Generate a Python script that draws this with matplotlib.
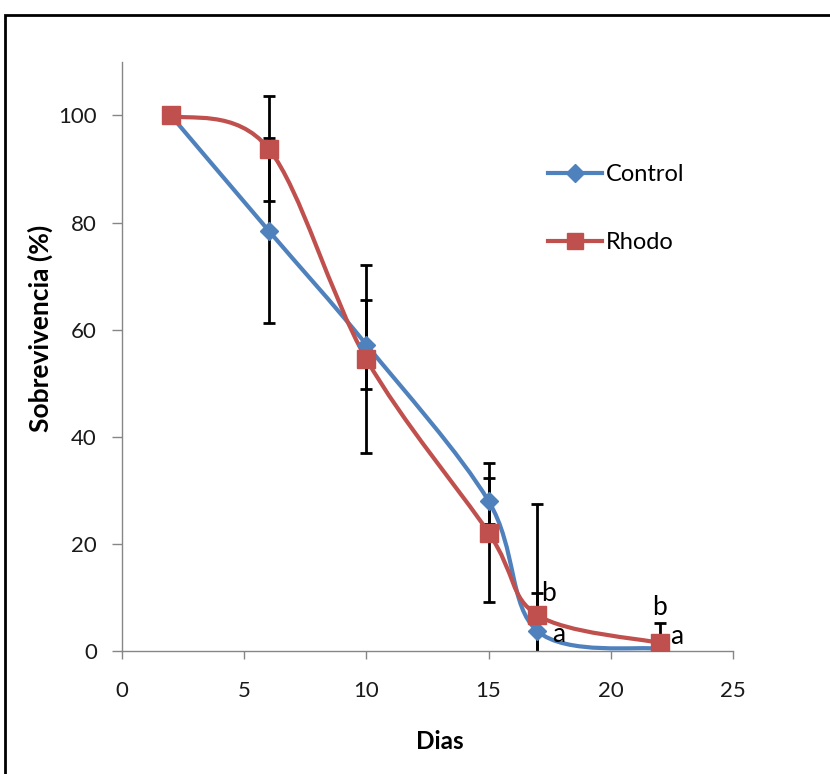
import matplotlib.pyplot as plt
from matplotlib.path import Path
from matplotlib.patches import PathPatch, Rectangle
from matplotlib.lines import Line2D
import numpy as np

plt.rcParams['font.family'] = ['Lato', 'DejaVu Sans']

# data
dias = [2, 6, 10, 15, 17, 22]
control = [100, 78.5, 57.2, 28, 3.7, 0.4]
control_err = [0, 17.3, 8.3, 4.3, 7.2, 0]
rhodo = [100, 93.8, 54.5, 22.1, 6.7, 1.5]
rhodo_err = [0, 9.8, 17.5, 13.0, 20.8, 3.7]
letras = [(17, 'b', 'a'), (22, 'b', 'a')]

azul = '#4F81BD'
rojo = '#C0504D'
gris = '#868686'


def smooth_path(x, y):
    # Excel-like smoothed line: cubic bezier with catmull-rom tangents
    x = np.asarray(x, float)
    y = np.asarray(y, float)
    pts = np.column_stack([x, y])
    n = len(pts)
    verts = [pts[0]]
    codes = [Path.MOVETO]
    for i in range(n - 1):
        p0 = pts[max(i - 1, 0)]
        p1 = pts[i]
        p2 = pts[i + 1]
        p3 = pts[min(i + 2, n - 1)]
        c1 = p1 + (p2 - p0) / 6.0
        c2 = p2 - (p3 - p1) / 6.0
        verts += [c1, c2, p2]
        codes += [Path.CURVE4] * 3
    return Path(verts, codes)


fig = plt.figure(figsize=(8.3, 7.74), dpi=100)
ax = fig.add_axes([0.147, 0.159, 0.736, 0.761])

for ys, err in [(control, control_err), (rhodo, rhodo_err)]:
    ax.errorbar(dias, ys, yerr=err, fmt='none', ecolor='black',
                elinewidth=2, capsize=4.5, capthick=2, zorder=2)

for ys, col, mk, ms in [(control, azul, 'D', 9), (rhodo, rojo, 's', 13)]:
    ax.add_patch(PathPatch(smooth_path(dias, ys), facecolor='none',
                           edgecolor=col, lw=3, zorder=3, capstyle='round'))
    ax.plot(dias, ys, linestyle='none', marker=mk, ms=ms, color=col,
            markeredgecolor=col, zorder=4)

for xd, tb, ta in letras:
    i = dias.index(xd)
    if xd == 17:
        ax.text(xd + 0.15, rhodo[i] + 4.0, tb, fontsize=19,
                ha='left', va='center', zorder=5)
        ax.text(xd + 0.6, control[i] - 0.6, ta, fontsize=19,
                ha='left', va='center', zorder=5)
    else:
        ax.text(xd, rhodo[i] + 6.6, tb, fontsize=19,
                ha='center', va='center', zorder=5)
        ax.text(xd + 0.45, rhodo[i] + 1.2, ta, fontsize=19,
                ha='left', va='center', zorder=5)

ax.set_xlim(0, 25)
ax.set_ylim(0, 110)
ax.set_xticks(range(0, 26, 5))
ax.set_yticks(range(0, 101, 20))
for s in ['top', 'right']:
    ax.spines[s].set_visible(False)
for s in ['left', 'bottom']:
    ax.spines[s].set_color(gris)
    ax.spines[s].set_linewidth(1)
ax.tick_params(direction='out', width=1, color=gris,
               labelsize=16, labelcolor='#1a1a1a')
ax.tick_params(axis='x', length=6, pad=16)
ax.tick_params(axis='y', length=7, pad=11)

ax.set_xlabel('Dias', fontsize=17.5, fontweight='bold', va='center')
ax.set_ylabel('Sobrevivencia (%)', fontsize=19, fontweight='bold', va='center')
ax.xaxis.set_label_coords(0.52, -0.1545)
ax.yaxis.set_label_coords(-0.134, 0.547)

handles = [Line2D([], [], color=azul, lw=3, marker='D', ms=9),
           Line2D([], [], color=rojo, lw=3, marker='s', ms=12)]
ax.legend(handles, ['Control', 'Rhodo'], loc='upper left',
          bbox_to_anchor=(0.662, 0.862), frameon=False, fontsize=17,
          handlelength=2.3, handletextpad=0.15, labelspacing=1.98)

# outer chart frame (right and bottom run off the picture)
fig.patches.append(Rectangle((5 / 830, -0.1), 1.2, 1.1 - 15 / 774,
                             transform=fig.transFigure, fill=False,
                             edgecolor='black', lw=2, clip_on=False))

fig.savefig('out.png', dpi=100)
